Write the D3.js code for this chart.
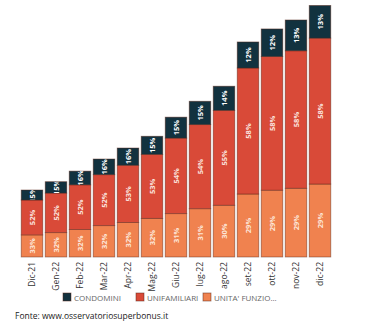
<!DOCTYPE html>
<html>
<head>
<meta charset="utf-8">
<script src="https://cdn.jsdelivr.net/npm/d3@7"></script>
<style>
  body { margin: 0; background: #fff; }
  svg text { font-family: "Open Sans", "Noto Sans", sans-serif; }
</style>
</head>
<body>
<div id="chart"></div>
<script>
// mesi
var mesi = ["Dic-21","Gen-22","Feb-22","Mar-22","Apr-22","Mag-22","Giu-22","lug-22","ago-22","set-22","ott-22","nov-22","dic-22"];
// totale asseverazioni per mese
var totali = [95718,107600,122700,140000,155700,172500,199800,222500,244000,307200,325800,338600,359400];
// quote percentuali per tipologia
var pctCondomini = [15,15,16,16,16,15,15,15,14,12,12,13,13];
var pctUnifamiliari = [52,52,52,52,53,53,54,54,55,58,58,58,58];
var pctUnita = [33,32,32,32,32,32,31,31,30,29,29,29,29];

var serie = [
  {key:"unita", nome:"UNITA' FUNZIO...", pct:pctUnita, colore:"#f0824f", testo:"#fde6d8"},
  {key:"unifamiliari", nome:"UNIFAMILIARI", pct:pctUnifamiliari, colore:"#d94a38", testo:"#fbe3de"},
  {key:"condomini", nome:"CONDOMINI", pct:pctCondomini, colore:"#12323f", testo:"#ffffff"}
];

var W = 368, H = 322;
var svg = d3.select("#chart").append("svg").attr("width", W).attr("height", H);

// tabella per lo stack: ogni segmento = totale * quota
var righe = mesi.map(function(m, i){
  var somma = pctCondomini[i] + pctUnifamiliari[i] + pctUnita[i];
  var r = {mese: m, i: i};
  serie.forEach(function(s){ r[s.key] = totali[i] * s.pct[i] / somma; });
  return r;
});

var stack = d3.stack().keys(serie.map(s => s.key));
var strati = stack(righe);

var x = d3.scaleBand().domain(mesi).range([20, 332]).paddingInner(0.1).paddingOuter(0.05);
var y = d3.scaleLinear().domain([0, 360000]).range([257, 5]);

var defs = svg.append("defs");

var gruppi = svg.selectAll("g.strato")
  .data(strati)
  .enter().append("g")
  .attr("class", "strato");

gruppi.each(function(strato, si){
  var s = serie[si];
  var g = d3.select(this);
  strato.forEach(function(d, i){
    var x0 = x(d.data.mese), y0 = y(d[1]), h = y(d[0]) - y(d[1]);
    var id = "clip-" + si + "-" + i;
    defs.append("clipPath").attr("id", id)
      .append("rect").attr("x", x0).attr("y", y0).attr("width", x.bandwidth()).attr("height", h);
    g.append("rect")
      .attr("x", x0).attr("y", y0)
      .attr("width", x.bandwidth()).attr("height", h)
      .attr("fill", s.colore)
      .attr("stroke", "#5a2418").attr("stroke-opacity", 0.55).attr("stroke-width", 0.8);
    var cx = x0 + x.bandwidth() / 2, cy = y0 + h / 2;
    // l'etichetta resta dentro il proprio segmento
    g.append("g")
      .attr("clip-path", "url(#" + id + ")")
      .append("text")
      .attr("transform", "translate(" + (cx + 2.6) + "," + cy + ") rotate(-90)")
      .attr("text-anchor", "middle")
      .attr("font-size", 7.5)
      .attr("font-weight", "bold")
      .attr("fill", s.testo)
      .text(s.pct[i] + "%");
  });
});

// etichette asse x
svg.selectAll("text.mese")
  .data(mesi)
  .enter().append("text")
  .attr("class", "mese")
  .attr("transform", d => "translate(" + (x(d) + x.bandwidth() / 2 + 3) + ",262) rotate(-90)")
  .attr("text-anchor", "end")
  .attr("font-size", 8.5)
  .attr("fill", "#333")
  .text(d => d);

// legenda
var legX = [63, 136, 203];
var leg = svg.selectAll("g.leg")
  .data(serie.slice().reverse())
  .enter().append("g")
  .attr("class", "leg")
  .attr("transform", (d, i) => "translate(" + legX[i] + ",293)");
leg.append("rect")
  .attr("width", 8).attr("height", 8)
  .attr("fill", d => d.colore)
  .attr("stroke", "#5a2418").attr("stroke-opacity", 0.6).attr("stroke-width", 0.8);
leg.append("text")
  .attr("x", 11).attr("y", 7.5)
  .attr("font-size", 8)
  .attr("fill", "#666")
  .text(d => d.nome);

svg.append("text")
  .attr("x", 15).attr("y", 319)
  .attr("font-size", 8.5)
  .attr("fill", "#222")
  .text("Fonte: www.osservatoriosuperbonus.it");
</script>
</body>
</html>
